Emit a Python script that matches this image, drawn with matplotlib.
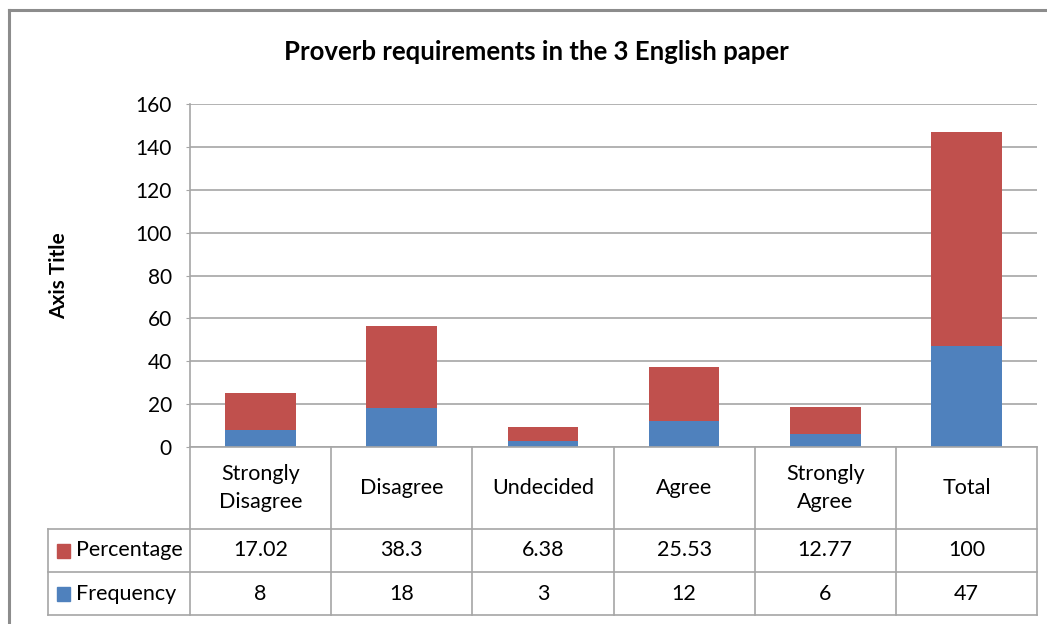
import matplotlib.pyplot as plt
from matplotlib.patches import Rectangle
from matplotlib.lines import Line2D

plt.rcParams['font.family'] = ['Lato', 'DejaVu Sans']

# data
categories = ["Strongly\nDisagree", "Disagree", "Undecided", "Agree", "Strongly\nAgree", "Total"]
frequency = [8, 18, 3, 12, 6, 47]
percentage = [17.02, 38.3, 6.38, 25.53, 12.77, 100]
freq_labels = ["8", "18", "3", "12", "6", "47"]
pct_labels = ["17.02", "38.3", "6.38", "25.53", "12.77", "100"]

blue = "#4F81BD"
red = "#C0504D"
grid_col = "#A6A6A6"

W, H = 1047, 624
fig = plt.figure(figsize=(W / 100, H / 100), dpi=100)

def fx(px):
    return px / W

def fy(py):
    return 1 - py / H

# outer chart border
fig.add_artist(Line2D([fx(9), fx(9)], [fy(10), fy(624)], color="#8C8C8C", lw=2.2))
fig.add_artist(Line2D([fx(9), fx(1047)], [fy(10), fy(10)], color="#8C8C8C", lw=2.2))

left, right, top, bottom = 190, 1037, 104, 447
ax = fig.add_axes([fx(left), fy(bottom), fx(right - left), (bottom - top) / H])

x = range(len(categories))
ax.bar(x, frequency, width=0.5, color=blue, zorder=3)
ax.bar(x, percentage, width=0.5, bottom=frequency, color=red, zorder=3)

ax.set_xlim(-0.5, len(categories) - 0.5)
ax.set_ylim(0, 160)
ax.set_yticks(range(0, 161, 20))
ax.yaxis.grid(True, color=grid_col, lw=1.2, zorder=0)
ax.set_xticks([])
for s in ["top", "right", "bottom"]:
    ax.spines[s].set_visible(False)
ax.spines["left"].set_color(grid_col)
ax.spines["left"].set_linewidth(1.2)
ax.tick_params(axis="y", length=3, color=grid_col, labelsize=15, pad=10)
ax.set_ylabel("Axis Title", fontsize=15, fontweight="bold", labelpad=48)

fig.text(fx(536), fy(52), "Proverb requirements in the 3 English paper",
         ha="center", va="center", fontsize=18.5, fontweight="bold")

# data table under the plot
col_w = (right - left) / len(categories)
row_y = [447, 529, 572, 615]
label_left = 48
lw = 1.2
for i in range(len(categories) + 1):
    xx = left + i * col_w
    fig.add_artist(Line2D([fx(xx), fx(xx)], [fy(row_y[0]), fy(row_y[3])], color=grid_col, lw=lw))
fig.add_artist(Line2D([fx(label_left), fx(label_left)], [fy(row_y[1]), fy(row_y[3])], color=grid_col, lw=lw))
fig.add_artist(Line2D([fx(left), fx(right)], [fy(row_y[0]), fy(row_y[0])], color=grid_col, lw=lw))
for yy in row_y[1:]:
    fig.add_artist(Line2D([fx(label_left), fx(right)], [fy(yy), fy(yy)], color=grid_col, lw=lw))

fs = 15.5
for i, cat in enumerate(categories):
    cx = left + (i + 0.5) * col_w
    fig.text(fx(cx), fy((row_y[0] + row_y[1]) / 2), cat, ha="center", va="center",
             fontsize=fs, linespacing=1.5)
    fig.text(fx(cx), fy((row_y[1] + row_y[2]) / 2), pct_labels[i], ha="center", va="center", fontsize=fs)
    fig.text(fx(cx), fy((row_y[2] + row_y[3]) / 2), freq_labels[i], ha="center", va="center", fontsize=fs)

for name, col, r in [("Percentage", red, 1), ("Frequency", blue, 2)]:
    cy = (row_y[r] + row_y[r + 1]) / 2
    fig.add_artist(Rectangle((fx(57), fy(cy + 7)), fx(13), 14 / H, color=col))
    fig.text(fx(76), fy(cy), name, ha="left", va="center", fontsize=fs)

fig.savefig("out.png", dpi=100)
